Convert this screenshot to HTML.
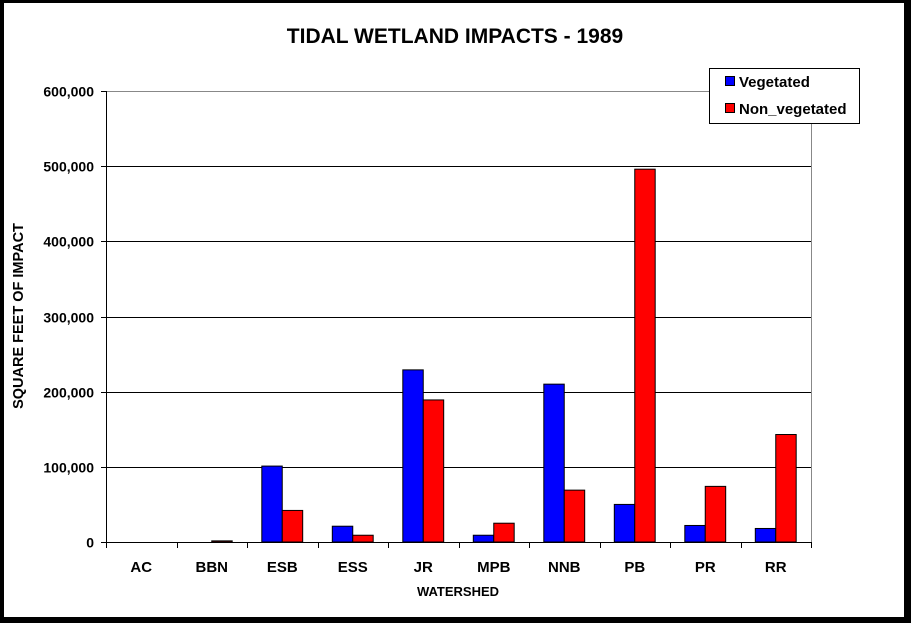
<!DOCTYPE html>
<html><head><meta charset="utf-8"><style>
body{margin:0;background:#000;}
svg{display:block;font-family:"Liberation Sans",Arial,sans-serif;font-weight:bold;}
</style></head><body>
<svg width="911" height="623">
<rect x="4" y="3" width="900" height="614" fill="#fff"/>
<text x="455" y="43" text-anchor="middle" font-size="21">TIDAL WETLAND IMPACTS - 1989</text>
<g id="plot"></g>
<text x="458" y="596" text-anchor="middle" font-size="13">WATERSHED</text>
<text transform="translate(23,316) rotate(-90)" text-anchor="middle" font-size="14.5">SQUARE FEET OF IMPACT</text>
<g>
<rect x="709.5" y="68.5" width="150" height="55" fill="#fff" stroke="#000"/>
<rect x="725.5" y="76.5" width="9" height="9" fill="#00f" stroke="#000"/>
<text x="739" y="87" font-size="15">Vegetated</text>
<rect x="725.5" y="103.5" width="9" height="9" fill="#f00" stroke="#000"/>
<text x="739" y="114" font-size="15">Non_vegetated</text>
</g>
</svg>
<script>
const categories=["AC","BBN","ESB","ESS","JR","MPB","NNB","PB","PR","RR"];
const vegetated=[0,0,101000,21000,229000,9000,210000,50000,22000,18000];
const nonVegetated=[0,1500,42000,9000,189000,25000,69000,496000,74000,143000];
const yTicks=[0,100000,200000,300000,400000,500000,600000];
const yTickLabels=["0","100,000","200,000","300,000","400,000","500,000","600,000"];
const X0=106,X1=811,Y0=542,Y1=91,NS="http://www.w3.org/2000/svg";
const g=document.getElementById('plot');
const cw=(X1-X0)/categories.length;
const y=v=>Y0-(v/600000)*(Y0-Y1);
const x=i=>X0+i*cw;
function mk(t,a,p){const e=document.createElementNS(NS,t);for(const k in a)e.setAttribute(k,a[k]);(p||g).appendChild(e);return e;}
yTicks.forEach((v,i)=>{
 const yy=Math.round(y(v))+0.5;
 if(v>0){const l=mk('line',{x1:X0,x2:X1,y1:yy,y2:yy,stroke:i==yTicks.length-1?'#888':'#000'});
 
 }
 const tk=mk('line',{x1:X0-5,x2:X0,y1:yy,y2:yy,stroke:'#000'});
 
 
 const t=mk('text',{x:X0-12,y:yy+5,'text-anchor':'end','font-size':14});
 t.textContent=yTickLabels[i];
 
 
});
const rb=mk('line',{x1:X1+0.5,x2:X1+0.5,y1:Y1,y2:Y0,stroke:'#888'});


const bw=cw*0.29,off=cw*0.21;
categories.forEach((c,i)=>{
 [[vegetated[i],'#00f','bar-vegetated-'],[nonVegetated[i],'#f00','bar-non-vegetated-']].forEach((s,j)=>{
  if(s[0]<=0)return;
  const top=y(s[0]);
  const r=mk('rect',{x:x(i)+off+j*bw,y:top,width:bw,height:Y0-top,fill:s[1],stroke:'#000','stroke-width':1});
  
  
 });
 const t=mk('text',{x:x(i)+cw/2,y:572,'text-anchor':'middle','font-size':15});
 t.textContent=c;
 
 
});
for(let i=0;i<=categories.length;i++){
 const xx=Math.round(x(i))+0.5;
 const tk=mk('line',{x1:xx,x2:xx,y1:Y0,y2:Y0+6,stroke:'#000'});
 
 
}
const xa=mk('line',{x1:X0,x2:X1,y1:Y0+0.5,y2:Y0+0.5,stroke:'#000'});


const ya=mk('line',{x1:X0+0.5,x2:X0+0.5,y1:Y1,y2:Y0,stroke:'#000'});


</script>
</body></html>
